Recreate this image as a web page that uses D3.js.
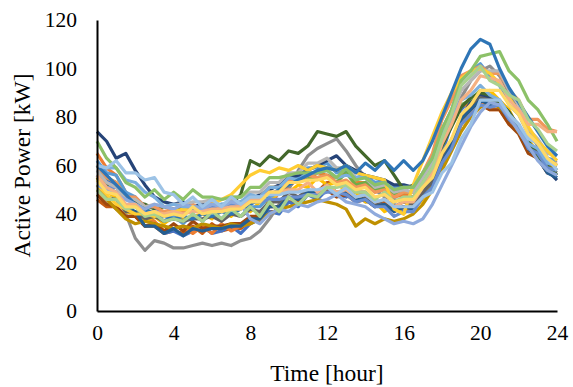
<!DOCTYPE html>
<html>
<head>
<meta charset="utf-8">
<script src="https://cdn.jsdelivr.net/npm/d3@7"></script>
<style>
  html, body { margin: 0; padding: 0; background: #fff; }
</style>
</head>
<body>
<svg id="svg"></svg>
<script>
// half-hourly time axis
const hours = [0,0.5,1,1.5,2,2.5,3,3.5,4,4.5,5,5.5,6,6.5,7,7.5,8,8.5,9,9.5,10,10.5,11,11.5,
  12,12.5,13,13.5,14,14.5,15,15.5,16,16.5,17,17.5,18,18.5,19,19.5,20,20.5,21,21.5,22,22.5,23,23.5,24];
const xTicks = [0, 4, 8, 12, 16, 20, 24];
const yTicks = [0, 20, 40, 60, 80, 100, 120];

// daily load profiles [kW]
const s01 = [58,54,52,47,44,39,36,32, 33,31,33,35,32,33,35,32, 36,38,41,40,45,43,48,46, 50,48,47,49,45,46,43,44, 41,44,48,57,65,77,83,88, 89,86,85,79,75,67,63,57,55];
const s02 = [65,59,56,49,46,39,37,33, 34,35,32,35,32,36,33,35, 36,41,43,49,51,55,54,57, 56,55,57,53,53,49,50,47, 48,47,53,59,71,77,85,85, 86,83,83,77,74,67,65,61,62];
const s03 = [50,46,42,40,30,25,29,28, 26,26,27,28,27,28,27,29, 30,33,38,44,50,58,64,67, 69,71,66,60,55,50,47,46, 45,46,50,58,68,78,88,95, 99,101,97,90,82,74,68,63,60];
const s04 = [55,49,47,41,40,37,39,36, 39,38,39,40,38,42,39,43, 41,45,45,49,49,52,51,55, 52,53,49,49,45,45,41,43, 40,44,45,53,59,71,77,85, 87,91,87,83,75,71,65,63,60];
const s05 = [62,57,56,49,47,41,41,37, 39,36,40,37,41,38,42,39, 43,43,47,49,54,55,59,59, 61,57,58,55,56,53,54,51, 51,51,57,63,75,83,95,99, 102,97,93,85,81,73,69,63,62];
const s06 = [60,55,53,47,46,42,43,40, 41,41,42,42,43,43,44,44, 47,47,51,51,55,54,55,55, 56,53,57,52,53,50,51,48, 49,49,55,61,71,77,85,87, 91,87,86,79,76,69,66,61,58];
const s07 = [74,70,63,65,58,52,47,45, 44,45,43,44,42,44,43,45, 46,48,50,52,55,56,58,60, 62,64,60,58,56,55,54,52, 52,51,50,54,62,70,80,86, 89,88,86,82,76,70,64,58,54];
const s08 = [48,44,43,39,39,35,36,33, 36,33,37,34,35,35,36,36, 39,39,43,43,47,46,49,49, 50,47,48,45,46,43,44,41, 43,42,47,51,61,67,77,81, 85,83,83,77,73,65,63,57,56];
const s09 = [52,47,46,41,41,38,39,37, 38,37,38,38,39,37,40,39, 42,41,45,45,49,47,50,49, 51,48,49,46,47,44,46,43, 45,44,49,53,63,69,79,83, 88,87,87,81,77,69,65,59,57];
const s10 = [50,46,42,38,36,37,36,35, 34,35,34,36,35,34,36,35, 36,38,40,42,43,44,45,46, 45,44,42,35,38,36,38,37, 38,40,44,50,58,66,74,80, 84,86,84,80,74,68,64,60,58];
const s11 = [56,51,49,43,41,35,35,32, 34,31,34,33,34,34,35,35, 38,38,43,43,47,46,49,49, 52,49,49,46,46,43,44,41, 43,42,47,51,61,69,79,83, 87,85,85,79,75,67,63,57,55];
const s12 = [55,52,48,46,45,44,42,43, 42,43,41,42,43,42,44,48, 62,60,64,62,66,65,68,74, 73,72,74,68,64,60,62,56, 50,52,54,60,68,76,84,88, 90,89,86,82,76,70,64,60,56];
const s13 = [54,51,51,47,47,43,43,40, 41,41,42,42,43,43,44,44, 45,45,46,46,47,47,48,48, 49,49,48,45,46,43,43,39, 41,41,47,51,61,67,77,81, 85,84,85,79,75,67,65,59,58];
const s14 = [60,55,53,47,47,43,43,41, 42,41,44,41,45,42,46,43, 47,47,51,51,54,53,56,55, 56,53,54,51,52,49,50,47, 49,49,57,65,79,87,97,99, 101,98,98,91,87,79,79,75,74];
const s15 = [58,53,51,46,46,43,44,43, 44,44,45,45,46,46,47,47, 49,49,53,53,57,57,61,61, 63,59,59,55,55,51,52,49, 50,49,55,61,73,81,91,95, 99,99,99,91,85,75,71,65,64];
const s16 = [52,48,44,42,40,40,39,40, 41,42,41,43,44,46,48,52, 56,58,57,59,58,60,58,60, 59,58,60,57,56,55,54,42, 40,52,62,72,82,90,96,99, 100,98,94,88,82,76,70,66,62];
const s17 = [60,59,59,54,53,49,47,43, 44,43,43,43,44,44,45,45, 48,47,51,51,55,54,57,57, 58,55,56,55,55,52,53,50, 51,51,57,63,73,79,87,89, 93,89,87,81,77,69,67,61,60];
const s18 = [70,63,59,53,51,47,50,46, 49,46,50,47,47,46,47,47, 51,51,55,55,56,57,57,57, 58,55,59,54,55,52,53,50, 51,51,57,63,75,83,95,99, 105,106,107,99,95,87,83,77,70];
const s19 = [60,56,52,48,44,42,40,39, 38,39,38,40,39,41,40,42, 44,46,48,50,52,54,56,58, 59,58,60,57,61,58,62,58, 62,58,62,70,80,90,100,108, 112,110,100,92,86,80,74,68,64];
const s20 = [52,50,48,46,44,42,44,43, 42,44,43,42,44,43,45,44, 38,36,40,42,41,44,43,45, 46,48,45,44,43,40,38,36, 37,36,38,44,52,60,68,76, 82,86,85,80,74,68,62,58,56];
const s21 = [56,51,49,44,44,40,41,40, 41,40,41,41,42,42,43,43, 46,46,49,49,50,50,53,49, 52,49,50,47,48,45,46,43, 45,45,51,57,69,77,87,91, 97,96,95,87,83,77,77,74,74];
const s22 = [60,59,62,57,57,54,55,49, 48,44,47,43,46,43,47,44, 47,47,48,48,49,49,50,50, 51,48,51,47,48,45,46,43, 43,43,47,49,57,61,71,77, 87,87,87,81,77,71,69,63,58];
const s23 = [50,46,46,42,43,39,40,37, 38,37,40,37,41,38,42,39, 43,39,45,41,47,44,48,47, 51,51,52,49,49,46,49,45, 47,47,53,59,71,81,93,97, 101,95,93,89,87,79,75,69,66];
const s24 = [54,49,48,43,43,40,41,39, 40,39,43,40,41,41,42,42, 45,45,49,49,53,53,54,54, 55,52,53,50,51,47,48,45, 46,46,51,55,65,71,81,85, 91,91,91,85,81,73,69,63,60];
const s25 = [46,43,43,39,39,35,35,32, 33,32,35,32,36,33,34,34, 37,37,41,41,45,45,49,49, 53,53,53,49,49,45,45,42, 43,43,49,53,63,69,79,83, 87,84,85,79,75,67,65,61,60];

// dark orange profile drawn first so it sits underneath
const seriesList = [s25,s01,s02,s03,s04,s05,s06,s07,s08,s09,s10,s11,s12,s13,s14,s15,s16,s17,s18,s19,s20,s21,s22,s23,s24];
const colors = ["#C55A11","#4472C4","#ED7D31","#8E8E8E","#FFC000","#5B9BD5","#70AD47",
  "#264478","#9E480E","#636363","#BF9000","#255E91","#43682B",
  "#698ED0","#F1975A","#B7B7B7","#FFCD33","#7CAFDD","#8CC168",
  "#2E75B6","#8FAADC","#F4B183","#9DC3E6","#A9D18E","#FFD966"];

const width = 573;
const height = 387;
const margin = {left: 97, right: 16, top: 20, bottom: 76};

const svg = d3.select("#svg")
  .attr("width", width)
  .attr("height", height)
  .attr("viewBox", [0, 0, width, height])
  .attr("font-family", "'Liberation Serif', 'Times New Roman', serif");

const xScale = d3.scaleLinear([0, 24], [margin.left, width - margin.right]);
const yScale = d3.scaleLinear([0, 120], [height - margin.bottom, margin.top]);

const line = d3.line()
  .x((d, i) => xScale(hours[i]))
  .y(d => yScale(d));

svg.append("g")
  .selectAll("path")
  .data(seriesList)
  .join("path")
  .attr("fill", "none")
  .attr("stroke", (d, i) => colors[i])
  .attr("stroke-width", 3.2)
  .attr("stroke-linejoin", "round")
  .attr("d", line);

const xAxis = svg.append("g")
  .attr("transform", "translate(0," + yScale(0) + ")")
  .call(d3.axisBottom(xScale).tickValues(xTicks).tickSize(0).tickPadding(14));

const yAxis = svg.append("g")
  .attr("transform", "translate(" + margin.left + ",0)")
  .call(d3.axisLeft(yScale).tickValues(yTicks).tickSize(0).tickPadding(20));

[xAxis, yAxis].forEach(ax => {
  ax.select(".domain").attr("stroke", "#000").attr("stroke-width", 2);
  ax.selectAll("text")
    .attr("font-family", "'Liberation Serif', 'Times New Roman', serif")
    .attr("font-size", 21.5)
    .attr("fill", "#000");
});

svg.append("text")
  .attr("x", xScale(12))
  .attr("y", 381)
  .attr("text-anchor", "middle")
  .attr("font-size", 23.5)
  .text("Time [hour]");

svg.append("text")
  .attr("transform", "translate(30," + yScale(60) + ")rotate(-90)")
  .attr("text-anchor", "middle")
  .attr("font-size", 23.5)
  .text("Active Power [kW]");
</script>
</body>
</html>
